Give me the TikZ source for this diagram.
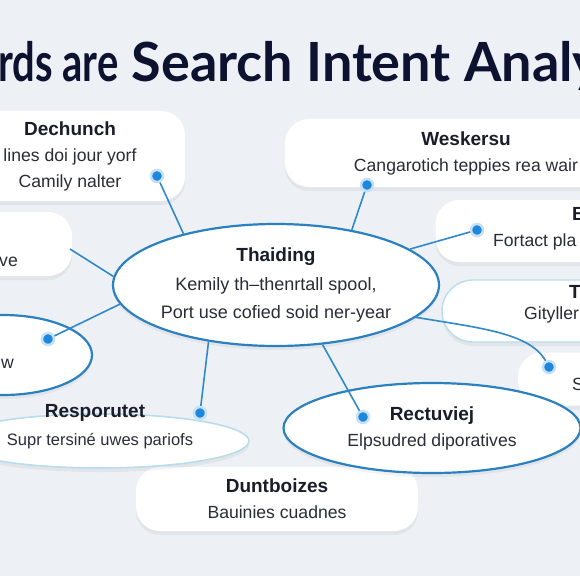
\documentclass[tikz,border=0pt]{standalone}
\usepackage{graphicx}
\usepackage{fontspec}
\setmainfont{Liberation Sans}
\newfontfamily\bannerfont{Lato}
\usetikzlibrary{shapes.geometric,shadows}
\definecolor{BgTint}{HTML}{EDF1F5}
\definecolor{TitleInk}{HTML}{0C1230}
\definecolor{HeadInk}{HTML}{1A1C2A}
\definecolor{BodyInk}{HTML}{2A2C38}
\definecolor{RingBlue}{HTML}{2B80C0}
\definecolor{PaleRing}{HTML}{B9DDEB}
\definecolor{LinkBlue}{HTML}{3089C9}
\definecolor{DotBlue}{HTML}{1C87DD}
\newcommand{\Head}[1]{{\fontsize{19}{26}\selectfont\bfseries\color{HeadInk}#1}}
\tikzset{
  card/.style={fill=white, rounded corners=24pt, align=center, inner sep=0pt,
               text=BodyInk, font=\fontsize{17.6}{26}\selectfont,
               drop shadow={shadow xshift=0pt, shadow yshift=-4pt, opacity=0.10}},
  ring/.style={ellipse, fill=white, draw=RingBlue, line width=2.2pt, align=center,
               inner sep=0pt, text=BodyInk, font=\fontsize{17.6}{26}\selectfont,
               drop shadow={shadow xshift=0pt, shadow yshift=-4pt, opacity=0.10}},
  palering/.style={ring, draw=PaleRing, line width=1.6pt},
  cut/.style={anchor=base west, inner sep=0pt, text=BodyInk, font=\fontsize{17.6}{26}\selectfont},
  dot/.style={circle, fill=DotBlue, draw=DotBlue!25, line width=2.5pt,
              minimum size=12pt, inner sep=0pt},
  link/.style={draw=LinkBlue, line width=1.6pt},
}

\begin{document}
\begin{tikzpicture}[x=1pt, y=-1pt]
  \path[use as bounding box] (0,0) rectangle (580,576);
  \clip (0,0) rectangle (580,576);
  \fill[BgTint] (0,0) rectangle (580,576);

  % banner, cut at both sides
  \node[anchor=base west, inner sep=0pt, text=TitleInk,
        font=\bannerfont\fontsize{54}{54}\selectfont\bfseries] (banner) at (-2,81)
    {\scalebox{0.74}[1]{rds are} Search Intent Analy};

  % outer cards
  \node[card, minimum width=230pt, minimum height=90pt] (dech) at (70,156)
    {\Head{Dechunch}\\lines doi jour yorf\\Camily nalter};
  \node[card, minimum width=362pt, minimum height=68pt] (wesk) at (466,153)
    {\Head{Weskersu}\\Cangarotich teppies rea wair};
  \node[card, minimum width=205pt, minimum height=62pt] (bcard) at (538,231) {};
  \node[cut] (bhead) at (572,220) {\Head{B}};
  \node[cut] (btext) at (493,246) {Fortact pla};
  \node[card, rounded corners=31pt, draw=PaleRing, line width=1.4pt,
        minimum width=198pt, minimum height=62pt] (tcard) at (541,311) {};
  \node[cut] (thead) at (569,298) {\Head{T}};
  \node[cut] (ttext) at (524,319) {Gityller};
  \node[card, minimum width=122pt, minimum height=53pt] (scard) at (579,379) {};
  \node[cut] (stext) at (572,390) {S};
  \node[card, minimum width=132pt, minimum height=64pt] (vecard) at (6,244) {};
  \node[cut] (vetext) at (-1,266) {ve};
  \node[ring, minimum width=178pt, minimum height=80pt] (wring) at (3,355) {};
  \node[cut] (wtext) at (1,368) {w};
  \node[card, minimum width=282pt, minimum height=64pt] (dunt) at (277,499)
    {\Head{Duntboizes}\\Bauinies cuadnes};
  \node[palering, minimum width=298pt, minimum height=54pt,
        font=\fontsize{16.5}{26}\selectfont] (resp) at (100,441)
    {Supr tersiné uwes pariofs};
  \node[inner sep=0pt] (resphead) at (95,413) {\Head{Resporutet}};
  \node[ring, minimum width=297pt, minimum height=90pt] (rect) at (432,428)
    {\Head{Rectuviej}\\Elpsudred diporatives};

  % hub
  \node[ring, minimum width=326pt, minimum height=122pt,
        font=\fontsize{18}{28.5}\selectfont] (hub) at (276,285)
    {\Head{Thaiding}\\Kemily th–thenrtall spool,\\Port use cofied soid ner-year};

  % end points
  \node[dot] (d1) at (157,176) {};
  \node[dot] (d2) at (367,185) {};
  \node[dot] (d3) at (477,230) {};
  \node[dot] (d4) at (549,367) {};
  \node[dot] (d5) at (363,417) {};
  \node[dot] (d6) at (200,413) {};
  \node[dot] (d7) at (48,339) {};
  \coordinate (vend) at (70,249);

  % spokes
  \draw[link] (hub.151) -- (d1);
  \draw[link] (hub.36) -- (d2);
  \draw[link] (hub.15) -- (d3);
  \draw[link] (hub.-13) .. controls (480,328) and (530,333) .. (d4);
  \draw[link] (hub.-52) -- (d5);
  \draw[link] (hub.-140) -- (d6);
  \draw[link] (hub.187) -- (d7);
  \draw[link] (hub.177) -- (vend);
\end{tikzpicture}
\end{document}
